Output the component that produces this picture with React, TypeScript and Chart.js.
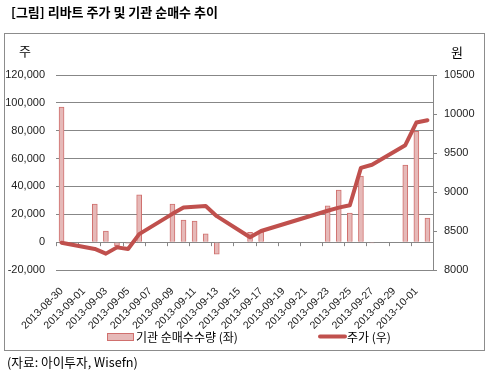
import React, { useEffect, useRef } from 'react';
import { Chart, registerables } from 'chart.js';

Chart.register(...registerables);

const dates: string[] = [
  '2013-08-30', '2013-08-31', '2013-09-01', '2013-09-02', '2013-09-03', '2013-09-04',
  '2013-09-05', '2013-09-06', '2013-09-07', '2013-09-08', '2013-09-09', '2013-09-10',
  '2013-09-11', '2013-09-12', '2013-09-13', '2013-09-14', '2013-09-15', '2013-09-16',
  '2013-09-17', '2013-09-18', '2013-09-19', '2013-09-20', '2013-09-21', '2013-09-22',
  '2013-09-23', '2013-09-24', '2013-09-25', '2013-09-26', '2013-09-27', '2013-09-28',
  '2013-09-29', '2013-09-30', '2013-10-01', '2013-10-02',
];

// 기관 순매수수량 (주)
const netBuy: (number | null)[] = [
  97000, null, null, 27300, 7900, -2500,
  -800, 34000, null, null, 27300, 15800,
  15100, 6000, -8600, null, null, 7000,
  7400, null, null, null, null, null,
  26100, 37400, 20800, 47400, -500, null,
  null, 55300, 79500, 17200,
];

// 주가 (원)
const price: (number | null)[] = [
  8350, null, null, 8270, 8210, 8290,
  8270, 8460, null, null, 8720, 8800,
  8810, 8820, 8690, null, null, 8420,
  8500, null, null, null, null, null,
  8760, 8800, 8830, 9310, 9350, null,
  null, 9600, 9890, 9920,
];

const titleText = '[그림] 리바트 주가 및 기관 순매수 추이';
const sourceText = '(자료: 아이투자, Wisefn)';
const barLabel = '기관 순매수수량 (좌)';
const lineLabel = '주가 (우)';
const leftUnit = '주';
const rightUnit = '원';

const BAR_FILL = '#E6B9B8';
const BAR_BORDER = '#D0706E';
const LINE_COLOR = '#C0504D';
const GRID = '#878787';
const KR = '"Noto Sans CJK KR", "Noto Sans", sans-serif';
const NUM = '"Liberation Sans", Arial, sans-serif';

const decor = {
  id: 'decor',
  beforeDatasetsDraw(chart: any) {
    const { ctx, scales } = chart;
    const x = scales.x;
    const y = scales.y;
    const y0 = y.getPixelForValue(0);
    const cw = x.getPixelForValue(1) - x.getPixelForValue(0);
    const left = x.getPixelForValue(0) - cw / 2;
    ctx.save();
    ctx.strokeStyle = GRID;
    ctx.lineWidth = 1;
    ctx.beginPath();
    for (let k = 0; k <= dates.length; k += 2) {
      const px = Math.round(left + k * cw) + 0.5;
      ctx.moveTo(px, y0);
      ctx.lineTo(px, y0 + 4);
    }
    ctx.stroke();
    ctx.restore();
  },
  afterDraw(chart: any) {
    const { ctx } = chart;
    ctx.save();
    // outer box
    ctx.strokeStyle = '#8c8c8c';
    ctx.lineWidth = 1;
    ctx.strokeRect(4.5, 33.5, 480, 317);
    // title
    ctx.fillStyle = '#000';
    ctx.textBaseline = 'middle';
    ctx.textAlign = 'left';
    ctx.font = `bold 13px ${KR}`;
    ctx.fillText(titleText, 11, 12);
    // units
    ctx.font = `13px ${KR}`;
    ctx.textAlign = 'center';
    ctx.fillText(leftUnit, 25, 51);
    ctx.fillText(rightUnit, 457, 52);
    // legend
    ctx.textAlign = 'left';
    ctx.fillStyle = BAR_FILL;
    ctx.fillRect(107.5, 333.5, 26, 7);
    ctx.strokeStyle = BAR_BORDER;
    ctx.strokeRect(107.5, 333.5, 26, 7);
    ctx.fillStyle = '#000';
    ctx.font = `12px ${KR}`;
    ctx.fillText(barLabel, 136, 337);
    ctx.strokeStyle = LINE_COLOR;
    ctx.lineWidth = 4;
    ctx.lineCap = 'round';
    ctx.beginPath();
    ctx.moveTo(320, 336.5);
    ctx.lineTo(345, 336.5);
    ctx.stroke();
    ctx.fillText(lineLabel, 347, 337);
    // source
    ctx.font = `12.7px ${KR}`;
    ctx.fillText(sourceText, 7, 362);
    ctx.restore();
  },
};

export default function App() {
  const ref = useRef<HTMLCanvasElement | null>(null);

  useEffect(() => {
    if (!ref.current) return;
    const chart = new Chart(ref.current, {
      type: 'bar',
      data: {
        labels: dates,
        datasets: [
          {
            type: 'line',
            label: lineLabel,
            data: price,
            yAxisID: 'y1',
            borderColor: LINE_COLOR,
            backgroundColor: LINE_COLOR,
            borderWidth: 4,
            pointRadius: 0,
            spanGaps: true,
            tension: 0,
            borderJoinStyle: 'round',
            borderCapStyle: 'round',
            order: 0,
          } as any,
          {
            type: 'bar',
            label: barLabel,
            data: netBuy,
            yAxisID: 'y',
            backgroundColor: BAR_FILL,
            borderColor: BAR_BORDER,
            borderWidth: 1,
            barThickness: 5,
            order: 1,
          } as any,
        ],
      },
      plugins: [decor],
      options: {
        animation: false,
        responsive: false,
        maintainAspectRatio: false,
        layout: { padding: { top: 75, left: 0, right: 0, bottom: 0 } },
        plugins: {
          legend: { display: false },
          tooltip: { enabled: false },
        },
        scales: {
          x: {
            type: 'category',
            offset: true,
            grid: { display: false },
            border: { display: false },
            ticks: {
              autoSkip: false,
              maxRotation: 45,
              minRotation: 45,
              padding: 7,
              color: '#222',
              font: { family: NUM, size: 10.5 },
              callback: (_v: any, i: number) => (i % 2 === 0 ? dates[i] : ''),
            },
            afterFit: (s: any) => {
              s.height = 107;
            },
          },
          y: {
            position: 'left',
            min: -20000,
            max: 120000,
            grid: { color: GRID, drawTicks: false },
            border: { display: false },
            ticks: {
              stepSize: 20000,
              padding: 11,
              color: '#222',
              font: { family: NUM, size: 11 },
              callback: (v: any) => Number(v).toLocaleString('en-US'),
            },
            afterFit: (s: any) => {
              s.width = 56;
            },
          },
          y1: {
            position: 'right',
            min: 8000,
            max: 10500,
            grid: { drawOnChartArea: false, color: GRID, tickLength: 4 },
            border: { display: true, color: GRID },
            ticks: {
              stepSize: 500,
              padding: 7,
              color: '#222',
              font: { family: NUM, size: 11 },
              callback: (v: any) => String(v),
            },
            afterFit: (s: any) => {
              s.width = 57;
            },
          },
        },
      } as any,
    });
    return () => chart.destroy();
  }, []);

  return (
    <div style={{ position: 'fixed', left: 0, top: 0, width: 490, height: 377, background: '#fff' }}>
      <canvas ref={ref} width={490} height={377} style={{ width: 490, height: 377, display: 'block' }} />
    </div>
  );
}
